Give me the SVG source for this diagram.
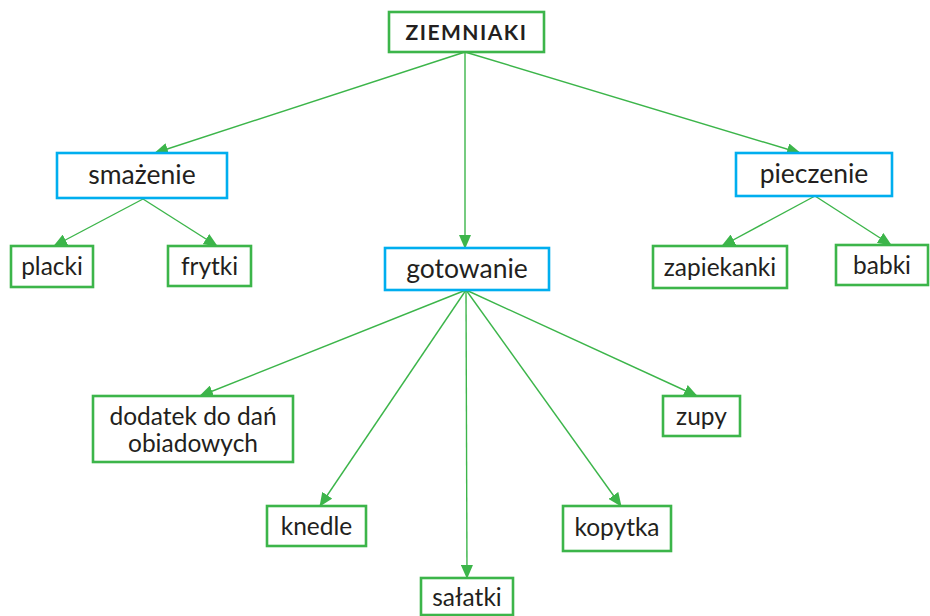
<svg xmlns="http://www.w3.org/2000/svg" width="930" height="616" viewBox="0 0 930 616">
<defs>
<marker id="ah" markerUnits="userSpaceOnUse" markerWidth="14" markerHeight="12" refX="13" refY="6" orient="auto">
<path d="M0,0 L14,6 L0,12 Z" fill="#3cb54a"/>
</marker>
<style>
.g{fill:#fff;stroke:#3cb54a;stroke-width:2.6}
.b{fill:#fff;stroke:#00aeef;stroke-width:2.6}
text{font-family:Lato,"Noto Sans",sans-serif;fill:#231f20;text-anchor:middle}
.t{font-size:26.5px}
.s{font-size:24.5px}
.c line{stroke:#3cb54a;stroke-width:1.4;marker-end:url(#ah)}
</style>
</defs>
<rect width="930" height="616" fill="#fff"/>
<g class="c" id="connectors">
<line x1="465" y1="52" x2="155" y2="153"/>
<line x1="465" y1="52" x2="465" y2="248"/>
<line x1="465" y1="52" x2="800" y2="153"/>
<line x1="143" y1="199" x2="54" y2="246"/>
<line x1="143" y1="199" x2="217" y2="246"/>
<line x1="815" y1="196" x2="722" y2="246"/>
<line x1="815" y1="196" x2="891" y2="245"/>
<line x1="466" y1="290" x2="200" y2="396"/>
<line x1="466" y1="290" x2="320" y2="506"/>
<line x1="466" y1="290" x2="467" y2="578"/>
<line x1="466" y1="290" x2="621" y2="506"/>
<line x1="466" y1="290" x2="697" y2="396"/>
</g>
<g id="ziemniaki"><rect class="g" x="389" y="12" width="155" height="40"/><text x="466.5" y="40" style="font-size:21px;font-weight:bold;letter-spacing:1.5px">ZIEMNIAKI</text></g>
<g id="smazenie"><rect class="b" x="57" y="153" width="170" height="45"/><text class="t" x="142" y="184">smażenie</text></g>
<g id="pieczenie"><rect class="b" x="736" y="153" width="156" height="43"/><text class="t" x="814" y="183">pieczenie</text></g>
<g id="gotowanie"><rect class="b" x="385" y="248" width="164" height="42"/><text class="t" x="467" y="278">gotowanie</text></g>
<g id="placki"><rect class="g" x="11" y="246" width="82" height="41"/><text class="s" x="52" y="275">placki</text></g>
<g id="frytki"><rect class="g" x="168" y="246" width="83" height="40"/><text class="s" x="209.5" y="275">frytki</text></g>
<g id="zapiekanki"><rect class="g" x="653" y="246" width="134" height="42"/><text class="s" x="720" y="276">zapiekanki</text></g>
<g id="babki"><rect class="g" x="836" y="245" width="92" height="40"/><text class="s" x="882" y="274">babki</text></g>
<g id="dodatek"><rect class="g" x="93" y="396" width="200" height="66"/><text class="s" x="193" y="425">dodatek do dań</text><text class="s" x="193" y="452">obiadowych</text></g>
<g id="knedle"><rect class="g" x="267" y="506" width="99" height="40"/><text class="s" x="316.5" y="535">knedle</text></g>
<g id="salatki"><rect class="g" x="421" y="578" width="92" height="37"/><text class="s" x="467" y="606">sałatki</text></g>
<g id="kopytka"><rect class="g" x="563" y="506" width="108" height="45"/><text class="s" x="617" y="536">kopytka</text></g>
<g id="zupy"><rect class="g" x="663" y="396" width="77" height="40"/><text class="s" x="701.5" y="425">zupy</text></g>
</svg>
